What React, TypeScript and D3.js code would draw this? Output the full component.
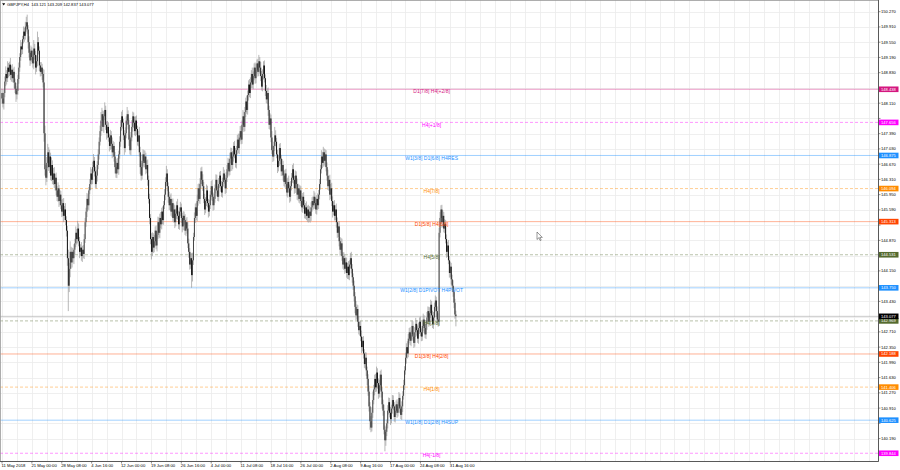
import React from 'react';
import * as d3 from 'd3';

// GBPJPY H4, 11 May - 3 Sep 2018, one value per bar (open = previous close)
const firstOpen = 148.35;
const closes: number[] = [
  // 0-27
  148.22, 148.10, 148.35, 148.62, 148.80, 148.70, 148.95, 148.85, 149.02, 148.78, 148.90, 148.70, 148.85, 148.60,
  148.45, 148.32, 148.40, 148.68, 148.95, 149.20, 149.45, 149.38, 149.62, 149.80, 149.70, 149.92, 150.02, 149.85,
  // 28-44
  149.55, 149.30, 149.12, 149.35, 149.20, 149.05, 149.40, 149.25, 148.95, 149.10, 149.55, 149.35, 149.00, 148.85,
  148.95, 148.80, 148.60,
  // 45-55
  147.40, 146.55, 146.35, 146.70, 146.95, 146.60, 146.85, 146.40, 146.65, 146.30, 146.45,
  // 56-70
  146.20, 146.35, 146.05, 145.90, 146.10, 145.80, 145.95, 145.70, 145.55, 145.75, 145.45, 145.60, 145.35, 145.10, 144.45,
  // 71-75
  143.80, 144.20, 144.60, 144.35, 144.60,
  // 76-87
  144.45, 144.65, 144.80, 145.05, 144.90, 145.15, 144.85, 144.60, 144.70, 144.50, 144.65, 144.55,
  // 88-94
  144.90, 145.30, 145.55, 145.85, 145.70, 146.05, 146.20,
  // 95-105
  146.45, 146.30, 146.60, 146.75, 146.50, 146.20, 146.40, 146.65, 146.90, 147.20, 147.45,
  // 106-112
  147.70, 147.85, 147.55, 147.80, 147.95, 147.60, 147.40,
  // 113-119
  147.55, 147.30, 147.10, 147.35, 147.15, 146.95, 147.10,
  // 120-126
  146.85, 146.60, 146.45, 146.70, 146.55, 146.90, 147.20,
  // 127-146
  147.55, 147.80, 147.65, 147.35, 147.05, 147.40, 147.70, 147.85, 147.60, 147.25, 147.00, 147.30, 147.55, 147.80,
  147.65, 147.45, 147.70, 147.50, 147.20, 147.35,
  // 147-155
  146.95, 146.60, 146.40, 146.75, 146.90, 146.70, 146.85, 146.55, 146.65,
  // 156-162
  146.30, 145.85, 145.40, 144.90, 144.60, 144.95, 144.70,
  // 163-172
  144.85, 145.10, 144.75, 145.00, 145.30, 145.05, 145.40, 145.25, 145.55, 145.35,
  // 173-180
  145.70, 145.95, 146.25, 146.45, 146.15, 145.90, 145.70, 145.85,
  // 181-198
  145.55, 145.75, 145.40, 145.60, 145.30, 145.50, 145.70, 145.45, 145.25, 145.55, 145.65, 145.40, 145.20, 145.45,
  145.35, 145.10, 145.30, 145.15,
  // 199-204
  144.80, 144.60, 144.30, 144.45, 144.05, 144.40,
  // 205-215
  144.95, 145.40, 145.65, 145.45, 145.80, 146.10, 145.85, 146.20, 146.50, 146.30, 146.15,
  // 216-241
  145.85, 145.60, 145.80, 146.05, 145.75, 145.55, 145.70, 145.95, 146.15, 145.90, 145.70, 145.85, 146.10, 146.30,
  146.05, 145.90, 146.20, 146.40, 146.15, 146.00, 146.25, 146.45, 146.30, 146.10, 146.35, 146.55,
  // 242-255
  146.70, 146.50, 146.80, 146.95, 146.65, 146.85, 147.10, 146.90, 146.70, 147.00, 147.25, 147.05, 147.30, 147.45,
  // 256-266
  147.25, 147.60, 147.80, 147.55, 147.90, 148.15, 147.95, 148.30, 148.55, 148.35, 148.60,
  // 267-276
  148.80, 148.55, 148.75, 148.95, 148.70, 148.90, 149.05, 148.85, 149.10, 148.95,
  // 277-284
  148.75, 148.50, 148.80, 149.00, 148.70, 148.40, 148.20, 148.35,
  // 285-290
  147.95, 147.60, 147.75, 147.30, 147.00, 146.85,
  // 291-301
  147.10, 147.35, 147.20, 146.90, 146.60, 146.75, 147.05, 146.80, 146.50, 146.65, 146.40,
  // 302-316
  146.25, 146.45, 146.20, 146.00, 146.25, 146.10, 145.90, 146.15, 146.35, 146.55, 146.30, 146.10, 146.40, 146.20, 145.95,
  // 317-330
  146.10, 145.85, 146.05, 145.80, 145.65, 145.90, 145.70, 145.50, 145.65, 145.45, 145.60, 145.40, 145.55, 145.45,
  // 331-340
  145.65, 145.80, 145.70, 145.90, 145.75, 145.60, 145.85, 145.70, 145.95, 146.20,
  // 341-348
  146.55, 146.85, 146.70, 146.95, 146.75, 146.90, 146.60, 146.40,
  // 349-362
  146.15, 146.30, 145.95, 146.10, 145.80, 145.55, 145.70, 145.45, 145.60, 145.30, 145.05, 145.20, 144.85, 144.65,
  // 363-376
  144.80, 144.50, 144.30, 144.45, 144.20, 144.35, 144.10, 144.25, 144.05, 144.30, 144.45, 144.20, 144.00, 143.80,
  // 377-383
  143.55, 143.30, 143.10, 143.25, 142.95, 142.75, 142.85,
  // 384-391
  142.60, 142.35, 142.50, 142.20, 141.95, 142.10, 141.80, 141.60,
  // 392-397
  141.30, 140.95, 140.60, 140.45, 140.80, 141.10,
  // 398-408
  141.35, 141.60, 141.40, 141.75, 141.50, 141.25, 141.45, 141.70, 141.30, 141.00, 140.85,
  // 409-412
  140.40, 140.15, 140.35, 140.55,
  // 413-429
  140.85, 141.05, 140.80, 140.65, 140.90, 141.10, 140.95, 140.70, 140.85, 141.00, 140.80, 140.95, 141.15, 140.90,
  140.75, 140.95, 141.20,
  // 430-437
  141.45, 141.80, 142.10, 142.35, 142.20, 142.55, 142.70, 142.50,
  // 438-455
  142.65, 142.85, 142.60, 142.45, 142.70, 142.90, 142.75, 142.55, 142.80, 142.95, 142.70, 142.60, 142.85, 143.00,
  142.80, 142.65, 142.90, 143.05,
  // 456-466
  143.20, 142.95, 143.15, 143.35, 143.10, 142.90, 143.05, 143.30, 143.45, 143.20, 143.00,
  // 467-471
  142.95, 145.05, 145.40, 145.60, 145.30,
  // 472-482
  145.45, 145.15, 145.25, 144.90, 144.60, 144.75, 144.40, 144.10, 144.25, 143.95, 143.80,
  // 483-486
  143.65, 143.40, 143.12, 143.08,
];

// upper / lower shadows in pips beyond the body
const upWick: number[] = [
  10, 14, 8, 12, 18, 9, 15, 11, 7, 16, 10, 13, 8, 12, 9, 14, 11, 10, 12, 9,
  15, 10, 8, 12, 9, 11, 13, 18, 10, 14, 9, 12, 8, 15, 20, 11, 9, 14, 25, 12,
  10, 8, 13, 9, 12, 30, 18, 10, 14, 20, 12, 16, 9, 18, 11, 13, 15, 9, 12, 10,
  14, 8, 11, 9, 13, 10, 12, 8, 15, 9, 11, 20, 14, 25, 12, 10, 9, 13, 11, 15,
  9, 18, 12, 10, 8, 13, 9, 11, 12, 10, 9, 14, 11, 8, 12, 15, 10, 13, 16, 9,
  11, 14, 9, 12, 10, 13, 20, 15, 9, 12, 18, 10, 8, 14, 11, 9, 13, 10, 15, 12,
  9, 11, 14, 10, 12, 9, 13, 16, 11, 15, 9, 12, 14, 10, 17, 9, 12, 10, 13, 16,
  11, 9, 14, 10, 12, 8, 11, 20, 13, 9, 15, 12, 10, 14, 9, 11, 13, 10, 12, 9,
  14, 11, 9, 15, 10, 12, 9, 13, 11, 10, 14, 9, 12, 10, 13, 11, 18, 10, 9, 12,
  10, 13, 9, 11, 14, 10, 12, 9, 15, 11, 10, 13, 9, 12, 11, 10, 14, 9, 12, 15,
  11, 9, 14, 12, 18, 10, 13, 9, 11, 15, 10, 12, 14, 9, 11, 13, 10, 12, 9, 14,
  11, 10, 13, 9, 12, 15, 10, 11, 9, 13, 12, 10, 14, 9, 11, 12, 10, 15, 9, 11,
  13, 10, 12, 9, 14, 11, 10, 13, 9, 12, 15, 10, 11, 14, 9, 12, 13, 10, 15, 11,
  12, 9, 14, 11, 10, 13, 12, 9, 15, 11, 10, 12, 14, 9, 11, 15, 10, 13, 12, 11,
  10, 12, 9, 14, 11, 13, 10, 12, 9, 15, 11, 10, 20, 12, 9, 11, 13, 10, 12, 9,
  14, 10, 12, 9, 11, 13, 10, 15, 9, 12, 11, 10, 14, 9, 12, 10, 13, 11, 9, 12,
  10, 13, 9, 11, 12, 10, 14, 9, 11, 13, 10, 12, 9, 11, 14, 10, 12, 9, 13, 11,
  12, 10, 15, 11, 13, 9, 12, 10, 11, 14, 9, 12, 10, 13, 11, 9, 12, 10, 14, 11,
  9, 12, 10, 13, 11, 9, 14, 10, 12, 11, 9, 13, 10, 12, 15, 11, 9, 12, 10, 14,
  11, 9, 13, 10, 12, 14, 9, 11, 10, 13, 12, 9, 11, 14, 10, 12, 13, 20, 11, 10,
  12, 14, 10, 11, 13, 9, 12, 10, 11, 14, 10, 12, 9, 13, 11, 10, 14, 9, 12, 11,
  10, 13, 9, 12, 11, 14, 10, 9, 12, 11, 13, 10, 12, 9, 14, 11, 10, 12, 9, 13,
  11, 10, 12, 14, 9, 11, 13, 10, 12, 9, 11, 14, 10, 12, 9, 13, 11, 10, 14, 12,
  9, 11, 13, 10, 12, 9, 11, 15, 12, 14, 10, 11, 13, 9, 12, 10, 11, 9, 13, 10,
  12, 9, 11, 13, 10, 9, 9,
];
const dnWick: number[] = [
  12, 9, 14, 10, 11, 15, 9, 13, 10, 12, 16, 9, 11, 14, 10, 18, 12, 9, 11, 10,
  9, 13, 11, 10, 14, 9, 12, 10, 15, 11, 13, 9, 12, 10, 14, 11, 16, 10, 12, 9,
  13, 11, 10, 14, 12, 20, 15, 18, 10, 12, 9, 14, 11, 13, 10, 12, 9, 15, 11, 10,
  12, 14, 10, 9, 13, 11, 15, 10, 12, 14, 18, 60, 15, 20, 15, 12, 10, 14, 11, 9,
  13, 10, 12, 15, 9, 11, 14, 10, 12, 9, 11, 13, 10, 12, 9, 14, 11, 10, 13, 12,
  9, 11, 14, 10, 12, 9, 11, 13, 10, 14, 9, 12, 15, 11, 10, 13, 9, 12, 14, 11,
  12, 15, 10, 11, 9, 13, 10, 12, 9, 14, 11, 16, 10, 12, 9, 11, 15, 10, 12, 9,
  11, 13, 10, 12, 14, 9, 11, 10, 16, 12, 9, 13, 11, 10, 12, 9, 14, 11, 15, 12,
  18, 10, 13, 11, 12, 9, 14, 10, 11, 13, 9, 12, 10, 11, 9, 13, 10, 12, 14, 11,
  12, 10, 13, 9, 11, 14, 10, 12, 9, 11, 13, 10, 12, 14, 9, 11, 10, 13, 12, 11,
  14, 12, 10, 30, 15, 11, 9, 12, 10, 13, 11, 9, 12, 10, 14, 11, 10, 13, 9, 12,
  10, 14, 11, 9, 12, 10, 13, 11, 9, 12, 14, 10, 11, 9, 13, 10, 12, 11, 9, 14,
  11, 10, 13, 12, 9, 11, 14, 10, 12, 9, 11, 13, 10, 12, 14, 9, 11, 10, 13, 12,
  10, 12, 9, 11, 13, 10, 12, 14, 9, 11, 10, 13, 12, 9, 11, 10, 14, 12, 9, 11,
  13, 10, 12, 9, 11, 14, 10, 12, 11, 9, 13, 10, 12, 11, 9, 14, 10, 12, 13, 11,
  9, 12, 10, 13, 11, 9, 12, 10, 14, 11, 10, 12, 9, 13, 11, 10, 12, 14, 9, 11,
  12, 10, 13, 9, 11, 12, 10, 14, 11, 9, 16, 12, 10, 11, 9, 13, 10, 12, 11, 9,
  11, 13, 10, 12, 9, 11, 14, 10, 12, 9, 11, 13, 10, 12, 14, 9, 11, 10, 13, 12,
  10, 12, 14, 9, 11, 10, 13, 12, 9, 11, 14, 10, 12, 9, 11, 13, 10, 12, 15, 11,
  9, 12, 10, 13, 11, 14, 10, 12, 9, 11, 13, 15, 10, 12, 20, 11, 9, 12, 10, 14,
  11, 10, 13, 12, 9, 11, 14, 10, 12, 11, 26, 13, 10, 12, 9, 11, 14, 10, 12, 9,
  11, 13, 10, 12, 9, 14, 11, 10, 12, 13, 9, 11, 10, 14, 12, 9, 11, 10, 13, 12,
  10, 12, 9, 11, 13, 10, 12, 14, 9, 11, 10, 13, 12, 9, 11, 14, 10, 12, 9, 11,
  13, 10, 12, 9, 11, 14, 10, 12, 9, 11, 10, 13, 12, 9, 11, 10, 14, 12, 9, 11,
  10, 12, 9, 11, 13, 10, 24,
];

const symbol = 'GBPJPY,H4';
const lastOhlc = ['143.121', '143.209', '142.837', '143.077'];
const bid = 143.077;

const timeLabels = [
  '11 May 2018', '21 May 00:00', '28 May 08:00', '4 Jun 16:00', '12 Jun 00:00', '19 Jun 08:00',
  '26 Jun 16:00', '4 Jul 00:00', '11 Jul 08:00', '18 Jul 16:00', '26 Jul 00:00', '2 Aug 08:00',
  '9 Aug 16:00', '17 Aug 00:00', '24 Aug 08:00', '31 Aug 16:00',
];
const barsPerLabel = 32;

const priceTicks = [
  140.19, 140.55, 140.91, 141.27, 141.63, 141.99, 142.35, 142.71, 143.07, 143.43, 143.79, 144.15, 144.51, 144.87, 145.23,
  145.59, 145.95, 146.31, 146.67, 147.03, 147.39, 147.75, 148.11, 148.47, 148.83, 149.19, 149.55, 149.91, 150.27,
];

// Murrey levels
const levelPrices = [148.438, 147.656, 146.875, 146.094, 145.313, 144.531, 143.750, 142.969, 142.188, 141.406, 140.625, 139.844];
const levelNames = [
  'D1[7/8] H4[+2/8]', 'H4[+1/8]', 'W1[3/8] D1[6/8] H4RES', 'H4[7/8]', 'D1[5/8] H4[6/8]', 'H4[5/8]',
  'W1[2/8] D1PIVOT H4PIVOT', 'H4[3/8]', 'D1[3/8] H4[2/8]', 'H4[1/8]', 'W1[1/8] D1[2/8] H4SUP', 'H4[-1/8]',
];
const levelColors = ['#d4177f', '#ff00ff', '#1e90ff', '#ff8c00', '#ff4500', '#556b2f', '#1e90ff', '#556b2f', '#ff4500', '#ff8c00', '#1e90ff', '#ff00ff'];
const levelDashed = [false, true, false, true, false, true, false, true, false, true, false, true];
const levelTextBar = 460;

const W = 900;
const H = 470;
const plotR = 878.5;
const plotB = 461.5;
const font = '"Liberation Sans", Arial, sans-serif';

export default function App() {
  const x = d3.scaleLinear().domain([0, 480]).range([2, 450.3]);
  const y = d3.scaleLinear().domain([140.19, 150.27]).range([438.6, 11.7]);

  const bars = closes.map((c, i) => {
    const o = i === 0 ? firstOpen : closes[i - 1];
    const h = Math.max(o, c) + (upWick[i] ?? 10) / 100;
    const l = Math.min(o, c) - (dnWick[i] ?? 10) / 100;
    return { i, o, h, l, c };
  });

  const gridBars = d3.range(0, 960, 16).filter(b => x(b) < plotR);

  // tick labels that sit under a coloured price box are covered, as on the terminal
  const boxPrices = [...levelPrices, bid];
  const visibleTicks = priceTicks.filter(p => boxPrices.every(q => Math.abs(y(p) - y(q)) > 5.6));

  return (
    <svg width={W} height={H} style={{ position: 'absolute', left: 0, top: 0, background: '#fff' }} fontFamily={font}>
      <rect x={0} y={0} width={W} height={H} fill="#fff" />
      {/* grid */}
      <g stroke="#ebebeb" strokeWidth={0.8}>
        {gridBars.map(b => (
          <line key={'gv' + b} x1={Math.round(x(b)) + 0.5} x2={Math.round(x(b)) + 0.5} y1={0} y2={plotB} />
        ))}
        {priceTicks.map(p => (
          <line key={'gh' + p} x1={0} x2={plotR} y1={Math.round(y(p)) + 0.5} y2={Math.round(y(p)) + 0.5} />
        ))}
      </g>

      {/* level lines */}
      {levelPrices.map((p, k) => (
        <line key={'lv' + k} x1={0} x2={plotR} y1={y(p)} y2={y(p)} stroke={levelColors[k]} strokeWidth={0.7}
          strokeOpacity={0.6} strokeDasharray={levelDashed[k] ? '3,2' : undefined} />
      ))}
      {/* bid line */}
      <line x1={0} x2={plotR} y1={y(bid)} y2={y(bid)} stroke="#b5b5b5" strokeWidth={0.7} />

      {/* candles */}
      <g>
        {bars.map(b => (
          <line key={'w' + b.i} x1={x(b.i)} x2={x(b.i)} y1={y(b.h)} y2={y(b.l)} stroke="#9a9a9a" strokeWidth={0.7} />
        ))}
        {bars.map(b => {
          const top = y(Math.max(b.o, b.c));
          const hh = Math.max(0.7, Math.abs(y(b.o) - y(b.c)));
          return (
            <rect key={'b' + b.i} x={x(b.i) - 0.45} y={top} width={0.9} height={hh}
              fill={b.c >= b.o ? '#3c3c3c' : '#050505'} />
          );
        })}
      </g>

      {/* level texts */}
      {levelPrices.map((p, k) => (
        <text key={'lt' + k} x={x(levelTextBar)} y={y(p) + 4.2} fontSize={5} textAnchor="middle" fill={levelColors[k]}>
          {levelNames[k]}
        </text>
      ))}

      {/* frame and axes */}
      <rect x={0.5} y={0.5} width={plotR - 0.5} height={plotB - 0.5} fill="none" stroke="#9a9a9a" strokeWidth={0.8} />
      <line x1={plotR} x2={plotR} y1={0} y2={plotB} stroke="#444" strokeWidth={0.8} />
      <line x1={0} x2={plotR} y1={plotB} y2={plotB} stroke="#444" strokeWidth={0.8} />

      {priceTicks.map(p => (
        <line key={'pm' + p} x1={plotR} x2={plotR + 2} y1={y(p)} y2={y(p)} stroke="#444" strokeWidth={0.6} />
      ))}
      {visibleTicks.map(p => (
        <text key={'pt' + p} x={plotR + 2.5} y={y(p) + 1.5} fontSize={4.1} fill="#000">{p.toFixed(3)}</text>
      ))}

      {/* level price boxes */}
      {levelPrices.map((p, k) => (
        <g key={'lb' + k}>
          <rect x={plotR + 0.5} y={y(p) - 2.8} width={19.5} height={5.6} fill={levelColors[k]} />
          <text x={plotR + 2.5} y={y(p) + 1.5} fontSize={4.1} fill="#fff">{p.toFixed(3)}</text>
        </g>
      ))}
      <rect x={plotR + 0.5} y={y(bid) - 2.8} width={19.5} height={5.6} fill="#000" />
      <text x={plotR + 2.5} y={y(bid) + 1.5} fontSize={4.1} fill="#fff">{bid.toFixed(3)}</text>

      {/* time axis */}
      {timeLabels.map((t, k) => {
        const tx = x(k * barsPerLabel);
        return (
          <g key={'tl' + k}>
            <line x1={tx} x2={tx} y1={plotB} y2={plotB + 2} stroke="#444" strokeWidth={0.6} />
            <text x={Math.max(1, tx - 0.5)} y={467} fontSize={4.2} fill="#000">{t}</text>
          </g>
        );
      })}

      {/* header */}
      <path d="M2.2,3.3 L5.2,3.3 L3.7,5.6 Z" fill="#000" />
      <text x={7} y={6.3} fontSize={4.1} fill="#000" xmlSpace="preserve">
        {symbol + '  ' + lastOhlc.join(' ')}
      </text>

      {/* mouse pointer */}
      <path d="M537,232 L537,239.5 L538.8,237.8 L540.2,240.6 L541.2,240.1 L539.8,237.4 L542.3,237.4 Z"
        fill="#fff" stroke="#333" strokeWidth={0.5} />
    </svg>
  );
}
